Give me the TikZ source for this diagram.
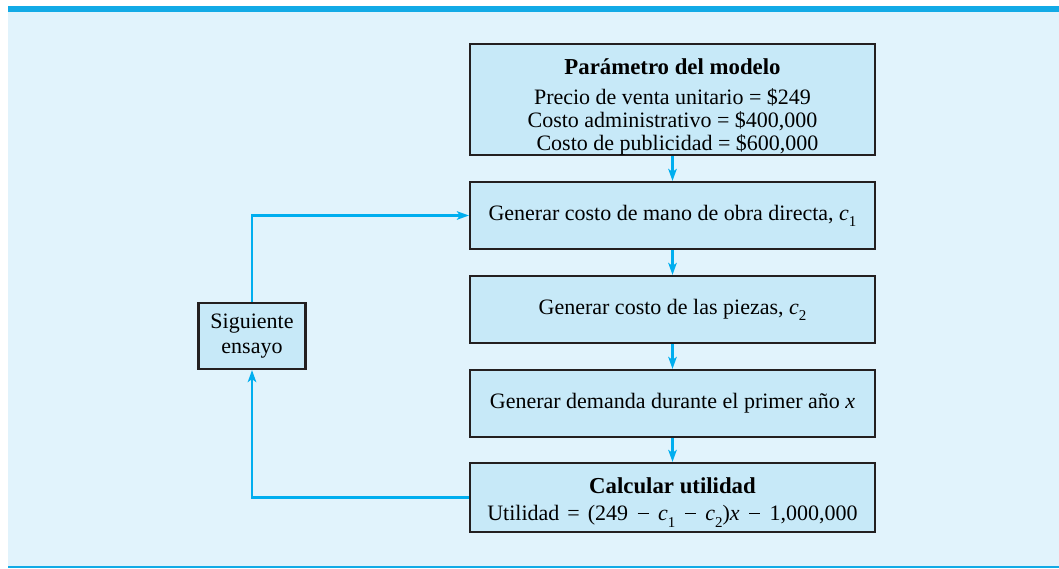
\documentclass[tikz,border=0pt]{standalone}
\usepackage{fontspec}
\setmainfont{Liberation Serif}
\usetikzlibrary{arrows.meta,positioning}
\definecolor{bgblue}{HTML}{E1F3FC}
\definecolor{boxblue}{HTML}{C7E9F8}
\definecolor{arrowblue}{HTML}{00AEEF}
\definecolor{bandblue}{HTML}{12AAE6}
\definecolor{edgegray}{HTML}{231F20}
\newcommand{\subsc}[1]{\raisebox{-0.28em}{\fontsize{15}{15}\selectfont #1}}
\newcommand{\mvar}[1]{\textit{#1}}
\newcommand{\op}[1]{\hspace{8pt}#1\hspace{8pt}}
\newcommand{\mminus}{\hspace{9.5pt}\raisebox{6.8pt}{\rule{11pt}{1.1pt}}\hspace{9.5pt}}
\newcommand{\boxtitle}[1]{{\fontsize{22.8}{23}\selectfont\bfseries #1}}
\begin{document}
\begin{tikzpicture}[x=1pt,y=-1pt,
  flowbox/.style={draw=edgegray,line width=2.2pt,fill=boxblue,minimum width=405pt,
    inner sep=0pt,align=center,font=\fontsize{22}{23}\selectfont},
  sidebox/.style={draw=edgegray,line width=2.2pt,fill=boxblue,minimum width=107pt,minimum height=66pt,
    inner sep=0pt,align=center,font=\fontsize{22}{25}\selectfont},
  flowarrow/.style={draw=arrowblue,line width=2.3pt,-{Stealth[length=12pt,width=8.5pt,inset=3pt]}}]
\useasboundingbox (0,0) rectangle (1059,568);
\fill[bgblue] (8,12) rectangle (1059,566);
\fill[bandblue] (8,6) rectangle (1059,12);
\fill[bandblue] (8,566) rectangle (1059,568);

\node[flowbox,minimum height=111pt] (param) at (672.5,99.5)
  {\rule{0pt}{30pt}\boxtitle{Parámetro del modelo}\\[7pt]
   Precio de venta unitario = \$249\\
   Costo administrativo = \$400,000\\
   \hspace{10pt}Costo de publicidad = \$600,000};
\node[flowbox,minimum height=67pt] (mano) at (672.5,215.5)
  {Generar costo de mano de obra directa, \mvar{c}\subsc{1}};
\node[flowbox,minimum height=67pt] (piezas) at (672.5,309.5)
  {Generar costo de las piezas, \mvar{c}\subsc{2}};
\node[flowbox,minimum height=67pt] (demanda) at (672.5,403.5)
  {Generar demanda durante el primer año \mvar{x}};
\node[flowbox,minimum height=69pt] (utilidad) at (672.5,497.5)
  {\rule{0pt}{26pt}\boxtitle{Calcular utilidad}\\[4pt]
   Utilidad\op{=}(249\mminus\mvar{c}\subsc{1}\mminus\mvar{c}\subsc{2})\mvar{x}\mminus1,000,000};
\node[sidebox] (siguiente) at (252,336) {Siguiente\\ensayo};

\draw[flowarrow] (param) -- (mano);
\draw[flowarrow] (mano) -- (piezas);
\draw[flowarrow] (piezas) -- (demanda);
\draw[flowarrow] (demanda) -- (utilidad);
\draw[flowarrow] (utilidad.west) -| (siguiente.south);
\draw[flowarrow] (siguiente.north) |- (mano.west);
\end{tikzpicture}
\end{document}
